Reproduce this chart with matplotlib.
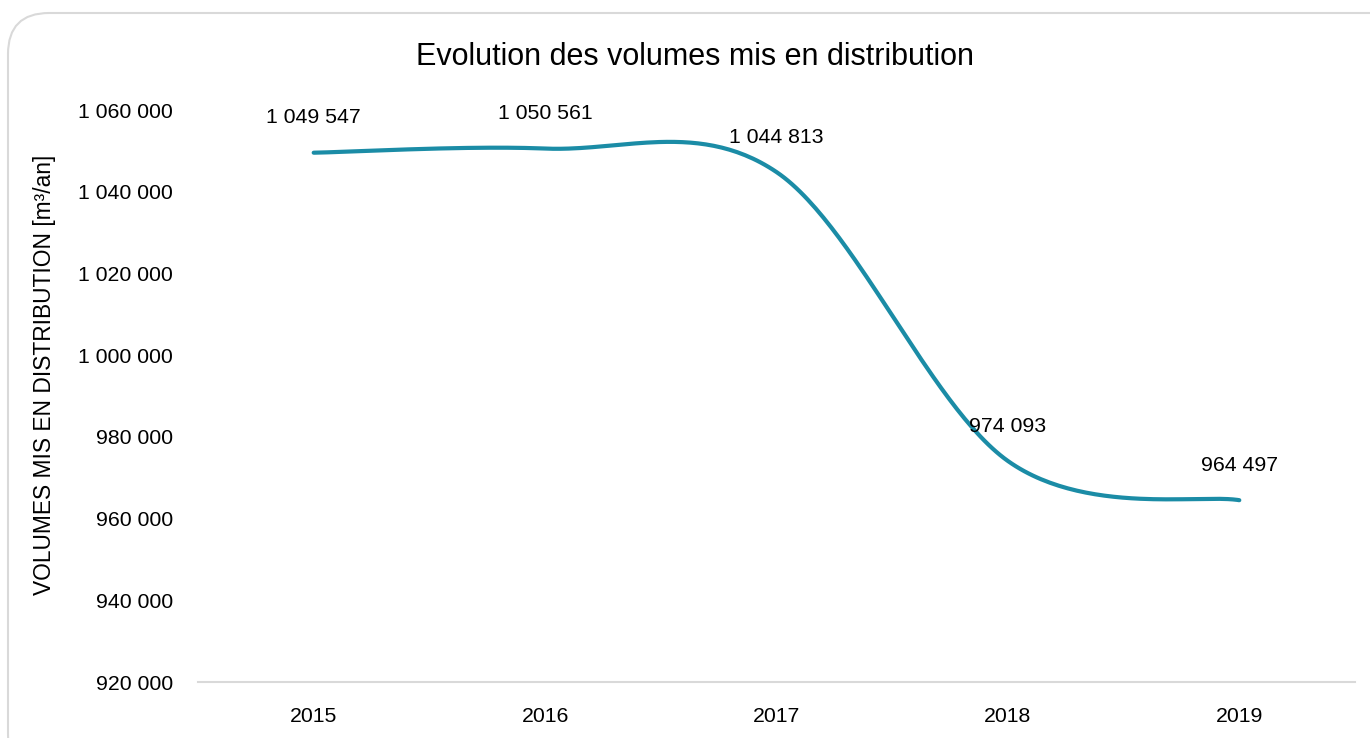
import numpy as np
import matplotlib
matplotlib.use("Agg")
import matplotlib.pyplot as plt
from matplotlib.patches import FancyBboxPatch
from matplotlib.ticker import FuncFormatter

years = ["2015", "2016", "2017", "2018", "2019"]
volumes = [1049547, 1050561, 1044813, 974093, 964497]
y_ticks = [920000, 940000, 960000, 980000, 1000000, 1020000, 1040000, 1060000]

title = "Evolution des volumes mis en distribution"
ylabel = "VOLUMES MIS EN DISTRIBUTION [m³/an]"

plt.rcParams['font.family'] = ['Liberation Sans', 'DejaVu Sans']

def fmt(v):
    return f"{int(round(v)):,}".replace(",", " ")

def smooth(xs, ys, n=60):
    xs = np.asarray(xs, float); ys = np.asarray(ys, float)
    P = np.column_stack([xs, ys])
    Pext = np.vstack([P[0], P, P[-1]])
    out = []
    for i in range(len(P) - 1):
        p0, p1, p2, p3 = Pext[i], Pext[i + 1], Pext[i + 2], Pext[i + 3]
        c1 = p1 + (p2 - p0) / 6.0
        c2 = p2 - (p3 - p1) / 6.0
        t = np.linspace(0, 1, n)[:, None]
        seg = ((1 - t) ** 3) * p1 + 3 * ((1 - t) ** 2) * t * c1 + 3 * (1 - t) * t ** 2 * c2 + t ** 3 * p2
        out.append(seg if i == 0 else seg[1:])
    s = np.vstack(out)
    return s[:, 0], s[:, 1]

fig = plt.figure(figsize=(13.7, 7.38), dpi=100)
fig.patch.set_facecolor("white")

border = FancyBboxPatch((8 / 1370, -0.05), 1.1, 1.05 - 13 / 738,
                        boxstyle="round,pad=0,rounding_size=0.03",
                        transform=fig.transFigure, fill=False,
                        edgecolor="#d9d9d9", linewidth=1.5, mutation_aspect=1370 / 738)
fig.patches.append(border)

ax = fig.add_axes([198 / 1370, 1 - 682 / 738, (1355 - 198) / 1370, (682 - 110) / 738])
x = np.arange(len(years))
sx, sy = smooth(x, volumes)
line_color = "#1b8ca6"
ax.plot(sx, sy, color=line_color, linewidth=3.0, solid_capstyle="round")

fs = 15.3
for xi, v in zip(x, volumes):
    ax.annotate(fmt(v), (xi, v), xytext=(0, 25), textcoords="offset points",
                ha="center", va="center", fontsize=fs, color="black")

ax.set_xlim(-0.5, len(years) - 0.5)
ax.set_ylim(y_ticks[0], y_ticks[-1])
ax.set_xticks(x)
ax.set_xticklabels(years, fontsize=fs)
ax.set_yticks(y_ticks)
ax.yaxis.set_major_formatter(FuncFormatter(lambda v, p: fmt(v)))
ax.tick_params(axis="y", labelsize=fs, length=0, pad=18)
ax.tick_params(axis="x", length=0, pad=18)
for s in ["top", "right", "left"]:
    ax.spines[s].set_visible(False)
ax.spines["bottom"].set_color("#d9d9d9")
ax.spines["bottom"].set_linewidth(1.5)
ax.set_facecolor("none")

fig.text(695 / 1370, 1 - 57 / 738, title, ha="center", va="center", fontsize=22)
fig.text(45 / 1370, 1 - 375 / 738, ylabel, ha="center", va="center", rotation=90, fontsize=16.4)

fig.savefig("out.png", dpi=100, facecolor="white")
